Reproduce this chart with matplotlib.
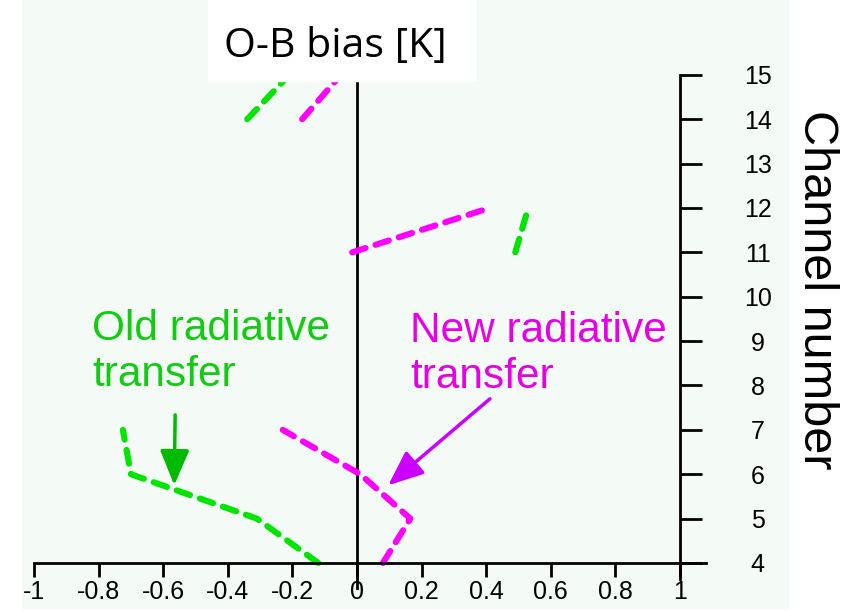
import matplotlib.pyplot as plt
from matplotlib.patches import Rectangle

# O-B bias [K] per channel
ch_top = [14, 15]
old_top = [-0.34, -0.21]
new_top = [-0.17, -0.05]

ch_mid = [11, 12]
old_mid = [0.49, 0.53]
new_mid = [-0.015, 0.41]

ch_low = [4, 5, 6, 7]
old_low = [-0.12, -0.31, -0.70, -0.725]
new_low = [0.08, 0.165, 0.01, -0.23]

xticks = [-1, -0.8, -0.6, -0.4, -0.2, 0, 0.2, 0.4, 0.6, 0.8, 1]
xlabels = ["-1", "-0.8", "-0.6", "-0.4", "-0.2", "0", "0.2", "0.4", "0.6", "0.8", "1"]
channels = list(range(4, 16))

green = "#00e600"
magenta = "#ff00ff"
dash = (0, (2.3, 1.7))

fig = plt.figure(figsize=(8.51, 6.11), dpi=100)
fig.patches.append(Rectangle((22 / 851, 0.005), (788 - 22) / 851, 0.995,
                             transform=fig.transFigure, color="#f4faf6", zorder=-1))
fig.patches.append(Rectangle((208 / 851, 1 - 81 / 611), (475 - 208) / 851, 81 / 611,
                             transform=fig.transFigure, color="white", zorder=5))
fig.text(335 / 851, 1 - 47 / 611, "O-B bias [K]", ha="center", va="center",
         fontsize=29.5, family="Open Sans", zorder=6)

ax = fig.add_axes([0.021, 0.035, 0.854, 0.857])
ax.patch.set_visible(False)
ax.set_xlim(-1.05, 1.2)
ax.set_ylim(3.4, 15.2)

for ch, o, n in [(ch_top, old_top, new_top), (ch_mid, old_mid, new_mid), (ch_low, old_low, new_low)]:
    ax.plot(o, ch, color=green, lw=4.4, ls=dash, dash_capstyle="round", solid_capstyle="round")
    ax.plot(n, ch, color=magenta, lw=4.4, ls=dash, dash_capstyle="round", solid_capstyle="round")

ax.axvline(0, color="black", lw=2, zorder=1)

for s in ["left", "top"]:
    ax.spines[s].set_visible(False)
ax.spines["bottom"].set_position(("data", 4))
ax.spines["bottom"].set_bounds(-1, 1.08)
ax.spines["bottom"].set_linewidth(2)
ax.spines["right"].set_position(("data", 1))
ax.spines["right"].set_bounds(3.65, 15)
ax.spines["right"].set_linewidth(2)

ax.set_xticks(xticks)
ax.set_xticklabels(xlabels, family="Liberation Sans", fontsize=18)
ax.tick_params(axis="x", direction="out", length=10, width=2, pad=2)
ax.yaxis.tick_right()
ax.set_yticks(channels)
ax.set_yticklabels([str(c) for c in channels], family="Liberation Sans", fontsize=18)
ax.tick_params(axis="y", direction="out", length=16, width=2, pad=40)
for lab in ax.get_yticklabels():
    lab.set_horizontalalignment("center")

fig.text(817 / 851, 1 - 290 / 611, "Channel number", rotation=-90, ha="center", va="center",
         fontsize=35, family="Liberation Sans")

ax.text(-0.82, 9.72, "Old radiative\ntransfer", color="#11cc11", fontsize=30.5,
        family="Liberation Sans", va="top", ha="left", linespacing=1.2)
ax.text(0.164, 9.68, "New radiative\ntransfer", color="#e800e8", fontsize=30.5,
        family="Liberation Sans", va="top", ha="left", linespacing=1.2)

ax.annotate("", xy=(-0.566, 5.69), xytext=(-0.563, 7.40),
            arrowprops=dict(arrowstyle="-|>,head_length=1.2,head_width=0.5",
                            color="#00bb00", lw=2.5, mutation_scale=18))
ax.annotate("", xy=(0.09, 5.71), xytext=(0.418, 7.74),
            arrowprops=dict(arrowstyle="-|>,head_length=1.2,head_width=0.5",
                            color="#cc00ff", lw=2.5, mutation_scale=18))

fig.savefig("out.png", dpi=100)
